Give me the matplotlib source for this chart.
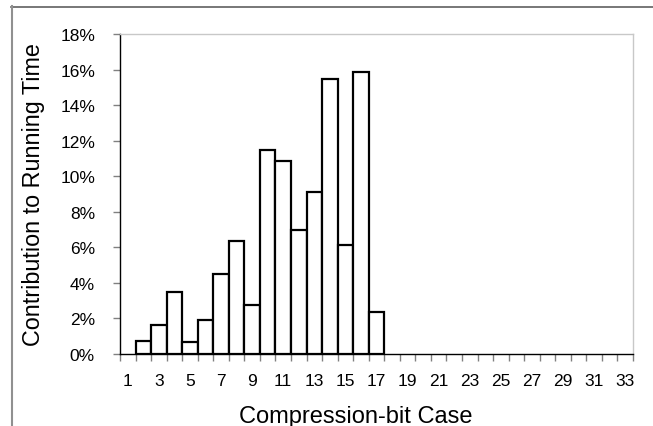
import matplotlib
matplotlib.use("Agg")
import matplotlib.pyplot as plt
from matplotlib.lines import Line2D
import numpy as np

plt.rcParams['font.family'] = ['Liberation Sans', 'DejaVu Sans']

categories = list(range(1, 34))
values = [0, 0.75, 1.65, 3.47, 0.66, 1.93, 4.50, 6.35, 2.76, 11.46, 10.87, 6.97,
          9.09, 15.45, 6.11, 15.84, 2.38] + [0] * 16
xtick_labels = [str(c) for c in categories[::2]]
ytick_vals = list(range(0, 19, 2))
ytick_labels = [f"{v}%" for v in ytick_vals]

fig = plt.figure(figsize=(6.53, 4.27), dpi=100)
ax = fig.add_axes([120/653, 1-355/427, (633-120)/653, (355-35)/427])

x = np.arange(len(categories))
mask = np.array(values) > 0
ax.bar(x[mask], np.array(values)[mask], width=1.0, color='white',
       edgecolor='black', linewidth=1.6, zorder=3)

ax.set_xlim(-0.5, len(categories) - 0.5)
ax.set_ylim(0, 18)
ax.set_yticks(ytick_vals)
ax.set_yticklabels(ytick_labels, fontsize=12.5)
ax.set_xticks(x[::2])
ax.set_xticklabels(xtick_labels, fontsize=12.5)
ax.set_xticks(np.arange(-0.5, len(categories), 1.0), minor=True)
ax.tick_params(axis='x', which='major', length=0, pad=13.5)
ax.tick_params(axis='x', which='minor', length=5, color='#808080', width=1)
ax.tick_params(axis='y', length=5, color='#808080', width=1, pad=13)

for s in ['top', 'right']:
    ax.spines[s].set_color('#C8C8C8')
    ax.spines[s].set_linewidth(1)
for s in ['left', 'bottom']:
    ax.spines[s].set_color('black')
    ax.spines[s].set_linewidth(1)

ax.set_xlabel('Compression-bit Case', fontsize=17)
ax.xaxis.set_label_coords((356 - 120) / 513, -(423 - 355) / 320, transform=ax.transAxes)
ax.xaxis.label.set_va('baseline')
ax.set_ylabel('Contribution to Running Time', fontsize=16.8, labelpad=11)

# outer chart frame
fig.add_artist(Line2D([11/653, 1], [1-7.5/427, 1-7.5/427], color='#606060', lw=1.2))
fig.add_artist(Line2D([11.5/653, 11.5/653], [0, 1-7/427], color='#909090', lw=1.5))

fig.savefig('out.png', dpi=100)
